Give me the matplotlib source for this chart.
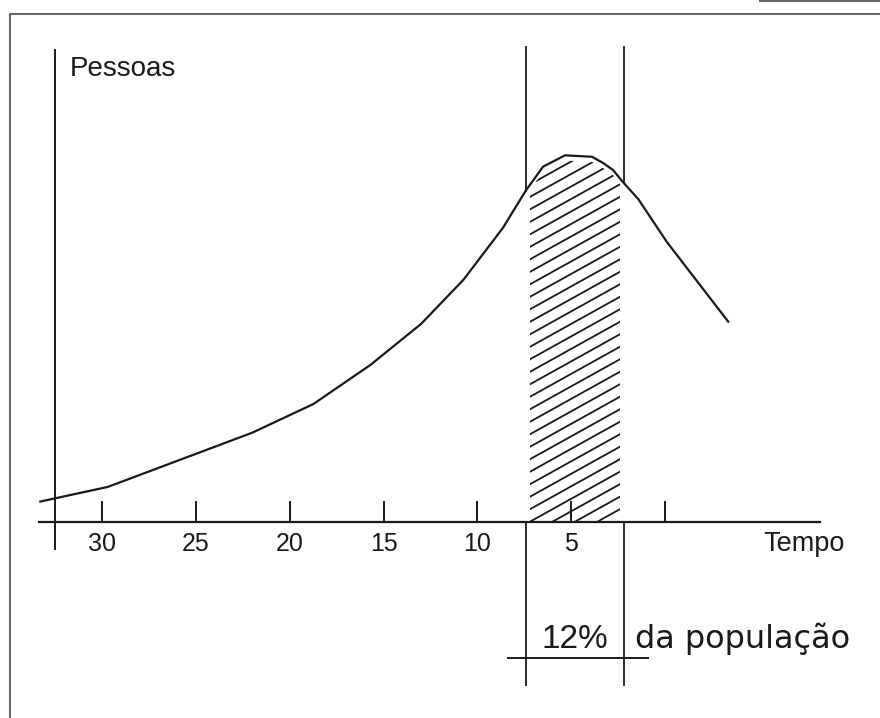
import matplotlib
matplotlib.use("Agg")
import matplotlib.pyplot as plt
import numpy as np
from matplotlib.patches import Polygon
from matplotlib.collections import LineCollection

# curve (tempo runs right to left)
tempo = [33.3, 29.7, 22.0, 18.75, 15.7, 13.0, 10.75, 8.64, 7.43, 6.5, 5.33,
         3.89, 3.3, 2.77, 2.31, 1.42, -0.09, -3.37]
pessoas = [5.5, 9.5, 24.3, 32.1, 42.8, 54.0, 66.0, 80.2, 90.3, 96.9, 100.0,
           99.6, 97.9, 96.0, 93.1, 88.0, 76.4, 54.6]

ticks = [30, 25, 20, 15, 10, 5, 0]
tick_labels = ["30", "25", "20", "15", "10", "5", ""]

# the shaded band (12% of the population)
sel_left = 7.43
sel_right = 2.21
sel_label = "12%"

ink = "#1a1a1a"
fnt = ["Liberation Sans", "DejaVu Sans"]

fig = plt.figure(figsize=(8.8, 7.18), dpi=100)
ax = fig.add_axes([0, 0, 1, 1])
ax.set_xlim(35.45, -11.46)
ax.set_ylim(-53.58, 142.39)
ax.axis("off")

t_inc = np.array(tempo[::-1])
p_inc = np.array(pessoas[::-1])
def curve_at(t):
    return np.interp(t, t_inc, p_inc)

# frame
ax.plot([0.0114, 0.0114, 1.0], [0.0, 0.9805, 0.9805], transform=ax.transAxes,
        color="#666666", lw=1.5, solid_capstyle="butt")
ax.plot([0.864, 1.0], [0.9985, 0.9985], transform=ax.transAxes,
        color="#666666", lw=1.5)

# axes
ax.plot([32.52, 32.52], [-7.45, 128.7], color=ink, lw=1.4)
ax.plot([33.37, -8.26], [0, 0], color=ink, lw=1.6)
for t, lab in zip(ticks, tick_labels):
    ax.plot([t, t], [0, 5.4], color=ink, lw=1.4)
    ax.text(t, -7.91, lab, ha="center", va="baseline", fontsize=18,
            family=fnt, color=ink)

ax.text(31.72, 121.6, "Pessoas", ha="left", va="baseline", fontsize=20,
        family=fnt, color=ink)
ax.text(-5.24, -7.91, "Tempo", ha="left", va="baseline", fontsize=19.5,
        family=fnt, color=ink)

# curve
ax.plot(tempo, pessoas, color=ink, lw=1.6)

# hatched band, clipped a little inside the band
inner = [t for t in tempo if 2.4 < t < 7.2]
ts = [7.2] + inner + [2.4]
top = [curve_at(t) - 1.4 for t in ts]
clip = Polygon([(7.2, 0)] + list(zip(ts, top)) + [(2.4, 0)], closed=True,
               facecolor="none", edgecolor="none")
ax.add_patch(clip)
slope = 2.847
segs = []
for k in range(-5, 40):
    c = k * 3.41
    segs.append([(7.6, c + slope * (7.196 - 7.6)), (2.0, c + slope * (7.196 - 2.0))])
lc = LineCollection(segs, colors=ink, linewidths=1.3)
lc.set_clip_path(clip)
ax.add_collection(lc)

# band boundaries
for t in (sel_left, sel_right):
    ax.plot([t, t], [curve_at(t), 129.5], color=ink, lw=1.3)
    ax.plot([t, t], [0, -44.6], color=ink, lw=1.3)
ax.plot([8.37, 0.91], [-37.1, -37.1], color=ink, lw=1.4)

ax.text((sel_left + sel_right) / 2, -34.55, sel_label, ha="center",
        va="baseline", fontsize=24, family=fnt, color=ink)
ax.text(1.60, -34.55, "da população", ha="left", va="baseline", fontsize=23,
        family=["DejaVu Sans"], color=ink)

fig.savefig("out.png", dpi=100)
